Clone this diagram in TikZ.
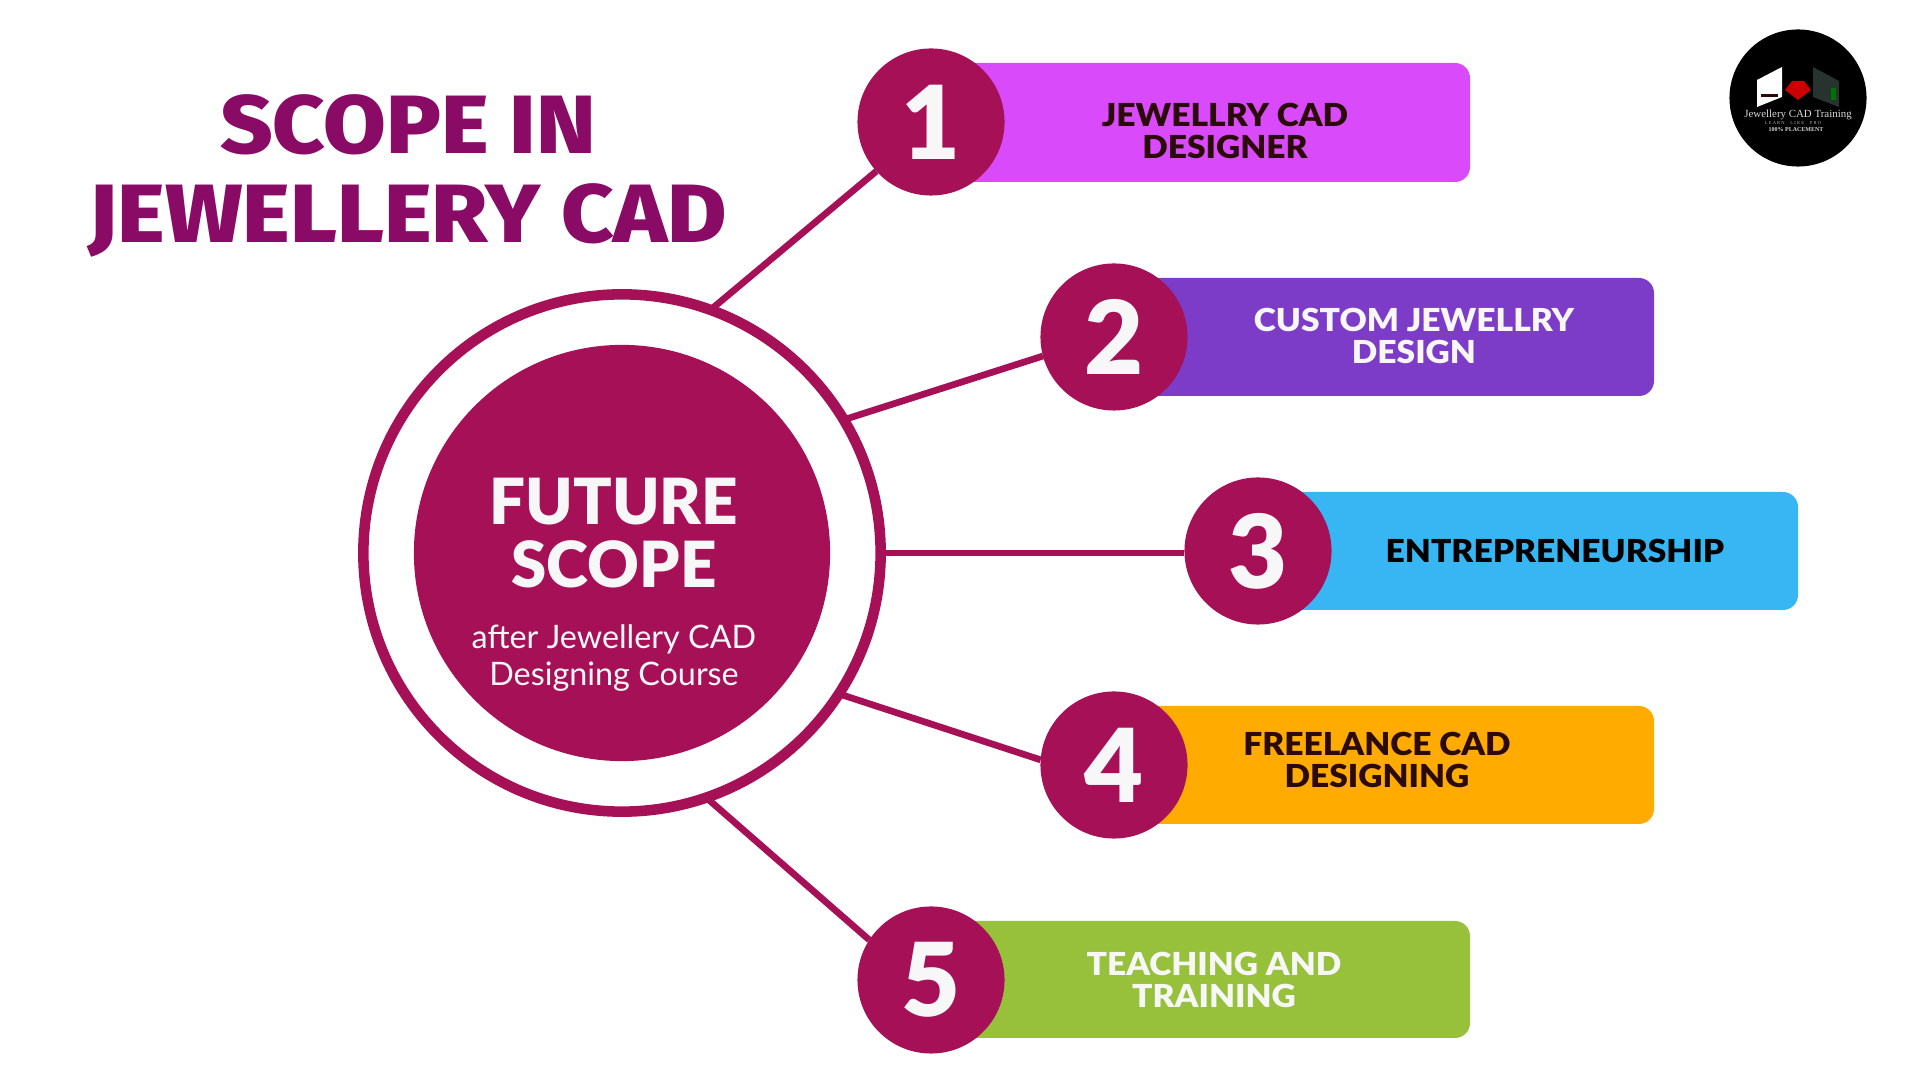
\documentclass[tikz,border=0pt]{standalone}
\usepackage{fontspec}
\setmainfont{Lato}
\newfontfamily\heavy{Lato}[UprightFont=* Black]
\newfontfamily\heavywide{Lato}[UprightFont=* Black,FakeStretch=1.06]
\newfontfamily\titlefont{Fira Sans}[UprightFont=* ExtraBold,FakeStretch=1.1]
\newfontfamily\logofont{Liberation Serif}
\definecolor{crim}{HTML}{A51057}
\definecolor{ttl}{HTML}{8A0B66}
\definecolor{ink}{HTML}{2B0A0A}
\definecolor{off}{HTML}{F7F7F7}
\definecolor{c1}{HTML}{D94AFB}
\definecolor{c2}{HTML}{7D3CC8}
\definecolor{c3}{HTML}{38B6F3}
\definecolor{c4}{HTML}{FFAB00}
\definecolor{c5}{HTML}{97C13A}
\definecolor{cardd}{HTML}{26332E}
\newcommand{\fs}[1]{\fontsize{#1}{#1}\selectfont}
\tikzset{
 x=0.01cm,y=-0.01cm,
 numc/.style={circle,fill=crim,minimum size=1.47cm,inner sep=0,outer sep=0,text=off,font=\heavy\fs{29}},
 bartxt/.style={align=center,font=\heavywide\fs{9.0},inner sep=0},
 link/.style={draw=crim,line width=1.9pt},
}
\begin{document}
\begin{tikzpicture}
\useasboundingbox (0,0) rectangle (1920,1080);
\fill[white] (0,0) rectangle (1920,1080);
% bars
\fill[c1,rounded corners=1.5mm] (931,63) rectangle (1470,182);
\fill[c2,rounded corners=1.5mm] (1114,278) rectangle (1654,396);
\fill[c3,rounded corners=1.5mm] (1258,492) rectangle (1798,610);
\fill[c4,rounded corners=1.5mm] (1114,706) rectangle (1654,824);
\fill[c5,rounded corners=1.5mm] (931,921) rectangle (1470,1038);
% ring and core
\node[circle,draw=crim,line width=3pt,minimum size=5.17cm,inner sep=0,outer sep=0] (ring) at (622,553) {};
\node[circle,fill=crim,minimum size=4.16cm,inner sep=0,outer sep=0] (core) at (622,553) {};
% numbers
\node[numc] (n1) at (931,122) {1};
\node[numc] (n2) at (1114,337) {2};
\node[numc] (n3) at (1258,551) {3};
\node[numc] (n4) at (1114,765) {4};
\node[numc] (n5) at (931,980) {5};
% connectors
\draw[link] (ring.70) -- (n1.222);
\draw[link] (ring.31) -- (n2.195);
\draw[link] (ring.0) -- (ring.0 -| n3.west);
\draw[link] (ring.-33) -- (n4.176);
\draw[link] (ring.-71) -- (n5.147);
% bar text
\node[bartxt,text=ink] (t1) at (1225,131) {JEWELLRY CAD\\DESIGNER};
\node[bartxt,text=off] (t2) at (1414,336) {CUSTOM JEWELLRY\\DESIGN};
\node[bartxt,text=black] (t3) at (1555,551) {ENTREPRENEURSHIP};
\node[bartxt,text=ink] (t4) at (1377,760) {FREELANCE CAD\\DESIGNING};
\node[bartxt,text=off] (t5) at (1214,980) {TEACHING AND\\TRAINING};
% centre text
\node[align=center,inner sep=0,text=off,font=\heavy\fs{18.1}] (head) at (614,533) {FUTURE\\SCOPE};
\node[align=center,inner sep=0,text=off,font=\fs{9.2}] (sub) at (614,658) {after Jewellery CAD\\[1.5pt]Designing Course};
% title
\node[align=center,inner sep=0,text=ttl,font=\titlefont\fs{23.5}] (title) at (408,176) {SCOPE IN\\[2pt]JEWELLERY CAD};
% logo
\node[circle,fill=black,minimum size=1.37cm,inner sep=0,outer sep=0] (logo) at (1798,98) {};
\fill[white] (1757,80) -- (1782,67) -- (1782,97) -- (1757,107) -- cycle;
\fill[ink] (1761,94) rectangle (1778,97);
\fill[cardd] (1813,67) -- (1839,81) -- (1839,107) -- (1813,97) -- cycle;
\fill[green!45!black] (1831,88) rectangle (1836,100);
\fill[red!80!black] (1792,81) -- (1804,81) -- (1811,90) -- (1798,100) -- (1785,90) -- cycle;
\node[inner sep=0,text=white!85!black,font=\logofont\fs{3.1}] (l1) at (1798,115) {Jewellery CAD Training};
\node[inner sep=0,text=white!70!black,font=\logofont\fs{1.3}] (l2) at (1793,123) {L E A R N \quad L I K E \quad P R O};
\node[inner sep=0,text=white!85!black,font=\logofont\bfseries\fs{1.7}] (l3) at (1796,130) {100\% PLACEMENT};
\end{tikzpicture}
\end{document}
